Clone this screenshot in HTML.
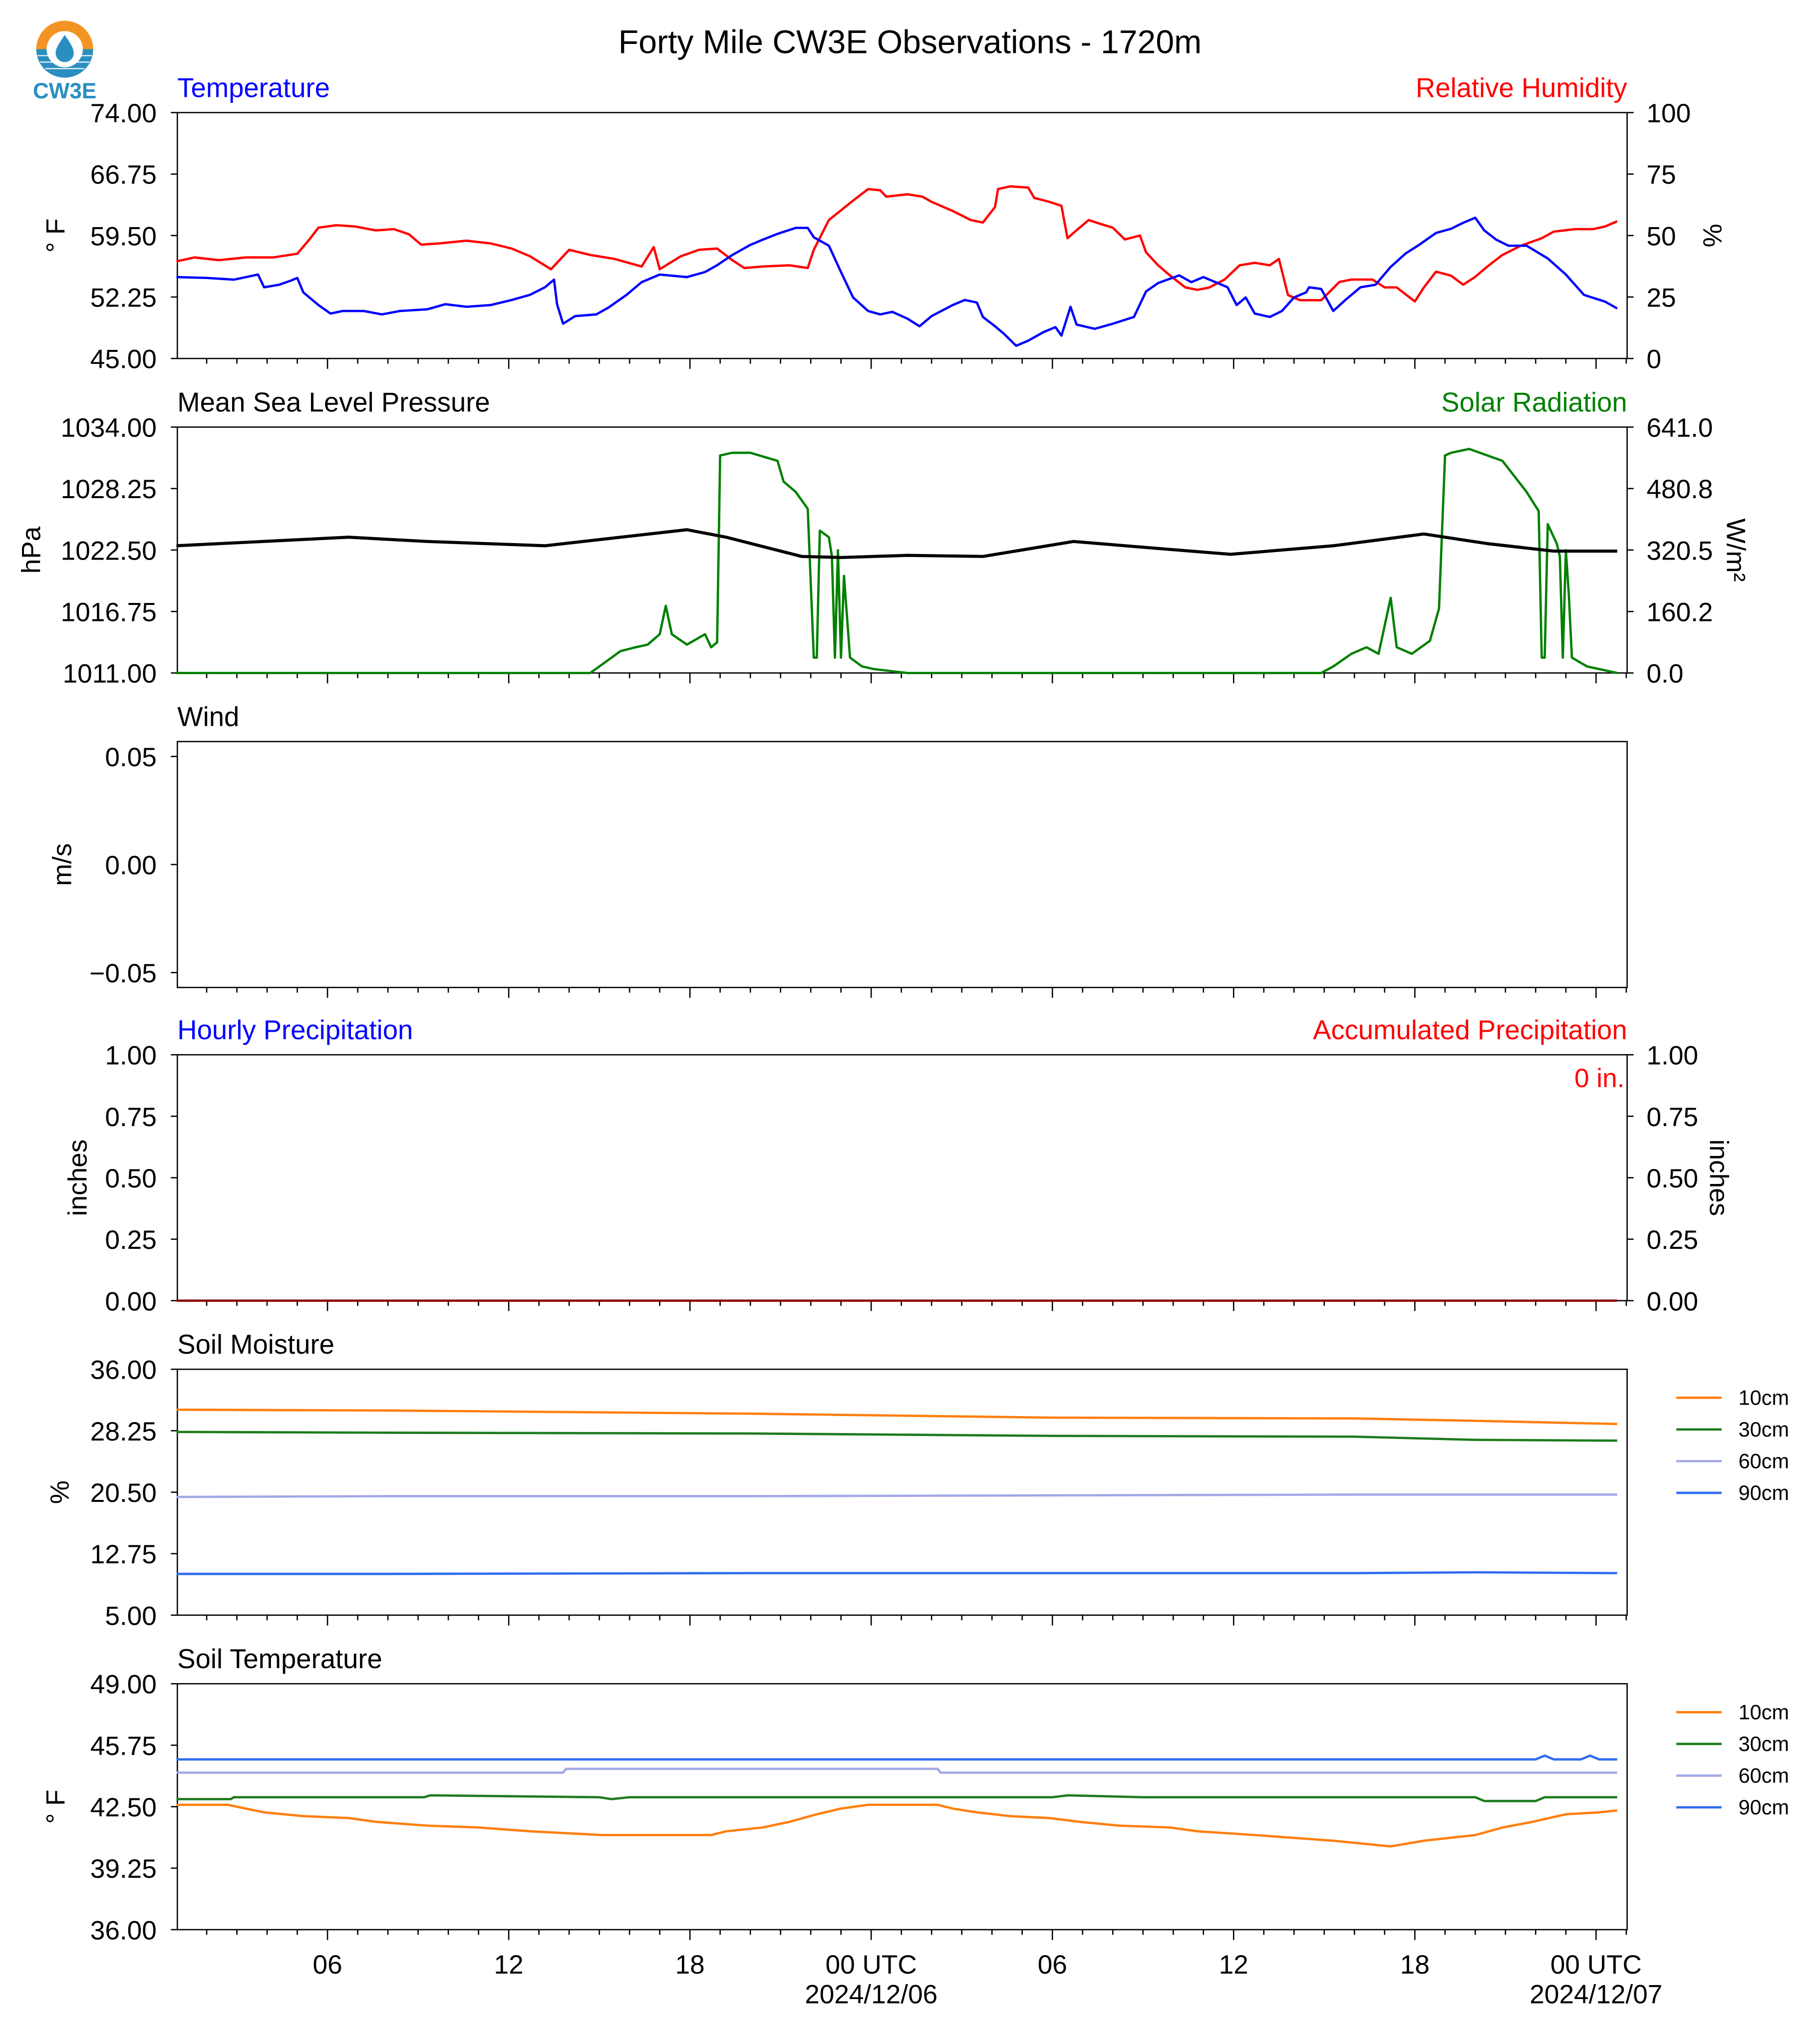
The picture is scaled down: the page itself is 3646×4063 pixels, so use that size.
<!DOCTYPE html>
<html><head><meta charset="utf-8">
<style>
html,body{margin:0;padding:0;background:#fff;}
svg{display:block;}
text{font-family:"Liberation Sans",Arial,sans-serif;}
</style></head>
<body>
<svg id="fig" width="3646" height="4063" viewBox="0 0 1406 1567" preserveAspectRatio="none" xmlns="http://www.w3.org/2000/svg">
<g>
  <path d="M28,38 A22,22 0 0 1 72,38 Z" fill="#f39323"/>
  <path d="M28,38 A22,22 0 0 0 72,38 Z" fill="#2a8fc0"/>
  <line x1="29" y1="43" x2="71" y2="43" stroke="#fff" stroke-width="0.8"/>
  <line x1="31" y1="48" x2="69" y2="48" stroke="#fff" stroke-width="0.8"/>
  <line x1="35" y1="53" x2="65" y2="53" stroke="#fff" stroke-width="0.8"/>
  <circle cx="50" cy="38" r="14" fill="#fff"/>
  <path d="M50,27 C46,33 43,37 43,41 A7,7 0 0 0 57,41 C57,37 54,33 50,27 Z" fill="#2a8fc0"/>
  <text x="50" y="76" font-size="17" font-weight="bold" fill="#2a8fc0" text-anchor="middle">CW3E</text>
</g>
<text x="703" y="41" font-size="25.5" text-anchor="middle">Forty Mile CW3E Observations - 1720m</text>
<g id="panels"></g>
</svg>
<script>
// ---------- data ----------
const tempHours=[1.0,2.0,2.9,3.7,3.9,4.4,4.8,5.0,5.2,5.7,6.1,6.5,7.2,7.8,8.4,9.3,9.9,10.6,11.4,12.1,12.7,13.2,13.5,13.6,13.8,14.2,14.9,15.3,15.9,16.4,17.0,17.9,18.5,18.9,19.4,20.0,20.4,20.9,21.5,21.9,22.1,22.6,23.0,23.4,23.9,24.3,24.7,25.2,25.6,26.0,26.7,27.1,27.5,27.7,28.1,28.4,28.8,29.2,29.7,30.1,30.3,30.6,30.8,31.4,32.0,32.7,33.1,33.5,34.2,34.6,35.0,35.4,35.8,36.1,36.4,36.7,37.2,37.6,38.0,38.4,38.5,38.9,39.3,39.7,40.2,40.7,41.2,41.7,42.1,42.7,43.2,43.6,44.0,44.3,44.7,45.1,45.7,46.4,47.0,47.6,48.3,48.7];
const tempValues=[54.6,54.5,54.3,54.9,53.4,53.7,54.2,54.5,52.8,51.3,50.3,50.6,50.6,50.2,50.6,50.8,51.4,51.1,51.3,51.9,52.5,53.4,54.3,51.4,49.1,50.0,50.2,51.0,52.5,54.0,54.9,54.6,55.2,56.0,57.2,58.4,59.0,59.7,60.4,60.4,59.3,58.3,55.2,52.2,50.6,50.2,50.5,49.7,48.8,50.0,51.3,51.9,51.6,49.9,48.8,47.9,46.5,47.1,48.1,48.7,47.7,51.1,49.0,48.5,49.1,49.9,52.9,53.9,54.8,54.0,54.6,54.0,53.4,51.3,52.2,50.3,49.9,50.6,52.2,52.8,53.4,53.2,50.6,51.9,53.4,53.7,55.8,57.4,58.3,59.8,60.3,61.0,61.6,60.1,59.0,58.3,58.3,56.8,54.9,52.5,51.7,50.9];
const rhHours=[1.0,1.6,2.4,3.3,4.2,5.0,5.4,5.7,6.3,6.9,7.6,8.2,8.7,9.1,9.7,10.6,11.4,12.1,12.7,13.4,14.0,14.7,15.5,16.4,16.8,17.0,17.7,18.3,18.9,19.4,19.8,20.4,21.3,21.9,22.1,22.6,23.4,23.9,24.3,24.5,25.2,25.7,26.0,26.7,27.3,27.7,28.1,28.2,28.6,29.2,29.4,29.9,30.3,30.5,30.7,31.2,31.6,32.0,32.4,32.9,33.1,33.5,33.9,34.4,34.8,35.2,35.7,36.2,36.7,37.2,37.5,37.8,38.2,38.9,39.5,39.9,40.6,41.0,41.4,42.0,42.3,42.7,43.2,43.6,44.0,44.4,44.9,45.5,46.2,46.6,47.3,47.9,48.3,48.7];
const rhValues=[39.5,41.1,40.0,41.1,41.1,42.6,48.4,53.2,54.2,53.7,52.1,52.6,50.5,46.3,46.8,47.9,46.8,44.7,41.6,36.3,44.2,42.1,40.5,37.4,45.3,36.3,41.6,44.2,44.7,40.0,36.8,37.4,37.9,36.8,44.2,56.3,64.2,68.9,68.4,65.8,66.8,65.8,63.7,60.0,56.3,55.3,61.6,68.9,70.0,69.5,65.3,63.7,62.1,48.9,51.1,56.3,54.7,53.2,48.4,50.0,43.2,37.9,33.7,28.9,27.9,28.9,32.1,37.9,38.9,37.9,40.5,25.8,23.7,23.7,31.1,32.1,32.1,28.9,28.9,23.2,28.9,35.3,33.7,30.0,33.2,37.4,42.1,45.8,48.9,51.6,52.6,52.6,53.7,55.8];
const presHours=[1.0,6.7,9.3,13.2,17.9,19.2,21.7,23.0,25.2,27.7,30.7,33.7,35.9,39.3,42.3,44.4,46.6,48.7];
const presValues=[1022.9,1023.7,1023.3,1022.9,1024.4,1023.7,1021.9,1021.8,1022.0,1021.9,1023.3,1022.6,1022.1,1022.9,1024.0,1023.1,1022.4,1022.4];
const solarHours=[1.0,14.7,15.3,15.7,16.2,16.6,17.0,17.2,17.4,17.9,18.5,18.7,18.9,19.0,19.4,20.0,20.9,21.1,21.5,21.9,22.1,22.2,22.3,22.6,22.7,22.8,22.9,23.0,23.1,23.3,23.7,24.1,25.2,38.9,39.3,39.9,40.4,40.8,41.2,41.4,41.9,42.5,42.8,43.0,43.2,43.8,44.9,45.7,46.1,46.2,46.3,46.4,46.7,46.8,46.9,47.0,47.1,47.2,47.7,48.7];
const solarValues=[0,0,34,57,67,74,101,175,101,74,101,67,80,567,574,574,553,499,472,428,40,40,371,354,304,40,320,40,253,40,17,10,0,0,17,50,67,50,196,67,50,84,168,567,574,584,553,472,422,40,40,388,337,304,40,320,202,40,17,0];
const soilHours=[1,8,20,30,40,44,48.7];
const sm10=[30.9,30.8,30.4,29.9,29.8,29.5,29.1];
const sm30=[28.1,28.0,27.9,27.6,27.5,27.1,27.0];
const sm60=[19.9,20.0,20.0,20.1,20.2,20.2,20.2];
const sm90=[10.2,10.2,10.3,10.3,10.3,10.4,10.3];
const st10Hours=[1.0,2.7,3.3,3.9,5.2,6.7,7.6,9.3,11.0,12.7,15.1,18.7,19.2,20.4,21.3,22.2,23.0,23.9,26.2,26.7,27.5,28.6,29.9,30.9,32.2,33.9,34.8,36.7,39.3,41.2,42.3,44.0,44.9,45.9,47.0,48.1,48.7];
const st10=[42.6,42.6,42.4,42.2,42.0,41.9,41.7,41.5,41.4,41.2,41.0,41.0,41.2,41.4,41.7,42.1,42.4,42.6,42.6,42.4,42.2,42.0,41.9,41.7,41.5,41.4,41.2,41.0,40.7,40.4,40.7,41.0,41.4,41.7,42.1,42.2,42.3];
const st30Hours=[1,2.8,2.9,9.2,9.4,15.0,15.4,16.0,30.0,30.5,33.0,40.0,44.0,44.3,46.0,46.3,48.7];
const st30=[42.9,42.9,43.0,43.0,43.1,43.0,42.9,43.0,43.0,43.1,43.0,43.0,43.0,42.8,42.8,43.0,43.0];
const st60Hours=[1,13.8,13.9,26.2,26.3,48.7];
const st60=[44.3,44.3,44.5,44.5,44.3,44.3];
const st90Hours=[1,46.0,46.3,46.6,47.5,47.8,48.1,48.7];
const st90=[45.0,45.0,45.2,45.0,45.0,45.2,45.0,45.0];
const precipHours=[1,48.7];
const precipValues=[0,0];
const xMajorTicks=[6,12,18,24,30,36,42,48];
const xMajorLabels=["06","12","18","00 UTC","06","12","18","00 UTC"];
const xDateLabels=["","","","2024/12/06","","","","2024/12/07"];

// ---------- helpers ----------
const NS="http://www.w3.org/2000/svg";
const root=document.getElementById('panels');
const L=137,R=1257,H=190;
const FS=20.5;
const xScale=h=>113+h*(140/6);
function el(tag,attrs,parent){const e=document.createElementNS(NS,tag);for(const k in attrs)e.setAttribute(k,attrs[k]);(parent||root).appendChild(e);return e;}
function txt(s,attrs,parent){const e=el('text',attrs,parent);e.textContent=s;return e;}
function yS(top,min,max){return v=>top+H-(v-min)/(max-min)*H;}
function line(hours,vals,ys,color,name,w){
  let d='';hours.forEach((h,i)=>{d+=(i?'L':'M')+xScale(h).toFixed(2)+','+ys(vals[i]).toFixed(2);});
  const p=el('path',{d:d,fill:'none',stroke:color,'stroke-width':w||1.8,'stroke-linejoin':'round'});
  
  
  return p;
}
function panel(top,name){
  const g=el('g',{});
  
  
  const r=el('rect',{x:L,y:top,width:R-L,height:H,fill:'none',stroke:'#000','stroke-width':1},g);
  
  
  for(let h=1;h<=49;h++){const x=xScale(h);if(x<L||x>R)continue;const maj=h%6===0;
    el('line',{x1:x,x2:x,y1:top+H,y2:top+H+(maj?8:4),stroke:'#000','stroke-width':1},g);}
  return g;
}
function yTicks(g,top,ticks,labels,side){
  const ys=v=>top+H-(v-ticks[0])/(ticks[ticks.length-1]-ticks[0])*H;
  ticks.forEach((t,i)=>{const y=ys(t);
    if(side==='left'){el('line',{x1:L-5,x2:L,y1:y,y2:y,stroke:'#000','stroke-width':1},g);
      const e=txt(labels[i],{x:L-16,y:y+7.5,'font-size':FS,'text-anchor':'end'},g);
      }
    else{el('line',{x1:R,x2:R+5,y1:y,y2:y,stroke:'#000','stroke-width':1},g);
      const e=txt(labels[i],{x:R+15,y:y+7.5,'font-size':FS},g);
      }
  });
}
function title(g,top,s,color,right,name){
  const e=txt(s,{x:right?R:L,y:top-12,'font-size':21,fill:color,'text-anchor':right?'end':'start'},g);
  
}
function ylabel(g,x,y,s,rot,name){
  const e=txt(s,{x:x,y:y,'font-size':FS,'text-anchor':'middle',transform:`rotate(${rot} ${x} ${y})`},g);
  
}
function legend(g,top,names,colors){
  names.forEach((n,i)=>{const y=top+22+i*24.5;
    el('line',{x1:1295,x2:1330,y1:y,y2:y,stroke:colors[i],'stroke-width':1.8},g);
    const e=txt(n,{x:1343,y:y+5.5,'font-size':16},g);
    });
}
const tops=[87,330,573,815,1058,1301];

// Panel 1
let g=panel(tops[0],'temperature-rh-panel');
yTicks(g,tops[0],[45,52.25,59.5,66.75,74],["45.00","52.25","59.50","66.75","74.00"],'left');
yTicks(g,tops[0],[0,25,50,75,100],["0","25","50","75","100"],'right');
title(g,tops[0],'Temperature','#0000ff',false,'temperature-title');
title(g,tops[0],'Relative Humidity','#ff0000',true,'rh-title');
ylabel(g,50,182,'° F',-90,'temperature-axis-title');
ylabel(g,1316,182,'%',90,'rh-axis-title');
line(rhHours,rhValues,yS(tops[0],0,100),'#ff0000','rh-line');
line(tempHours,tempValues,yS(tops[0],45,74),'#0000ff','temperature-line');

// Panel 2
g=panel(tops[1],'pressure-solar-panel');
yTicks(g,tops[1],[1011,1016.75,1022.5,1028.25,1034],["1011.00","1016.75","1022.50","1028.25","1034.00"],'left');
yTicks(g,tops[1],[0,160.25,320.5,480.75,641],["0.0","160.2","320.5","480.8","641.0"],'right');
title(g,tops[1],'Mean Sea Level Pressure','#000',false,'pressure-title');
title(g,tops[1],'Solar Radiation','#008000',true,'solar-title');
ylabel(g,31,425,'hPa',-90,'pressure-axis-title');
ylabel(g,1334,425,'W/m²',90,'solar-axis-title');
line(solarHours,solarValues,yS(tops[1],0,641),'#008000','solar-line');
line(presHours,presValues,yS(tops[1],1011,1034),'#000','pressure-line',2.4);

// Panel 3
g=panel(tops[2],'wind-panel');
[[0.05,"0.05"],[0,"0.00"],[-0.05,"−0.05"]].forEach(t=>{const y=668-t[0]/0.05*83.5;
  el('line',{x1:L-5,x2:L,y1:y,y2:y,stroke:'#000'},g);
  const e=txt(t[1],{x:L-16,y:y+7.5,'font-size':FS,'text-anchor':'end'},g);
  });
title(g,tops[2],'Wind','#000',false,'wind-title');
ylabel(g,55,668,'m/s',-90,'wind-axis-title');

// Panel 4
g=panel(tops[3],'precipitation-panel');
const pt=[0,0.25,0.5,0.75,1],pl=["0.00","0.25","0.50","0.75","1.00"];
yTicks(g,tops[3],pt,pl,'left');yTicks(g,tops[3],pt,pl,'right');
title(g,tops[3],'Hourly Precipitation','#0000ff',false,'hourly-precip-title');
title(g,tops[3],'Accumulated Precipitation','#ff0000',true,'accum-precip-title');
ylabel(g,67,910,'inches',-90,'precip-axis-title');
ylabel(g,1321,910,'inches',90,'accum-precip-axis-title');
let e=txt('0 in.',{x:R-2,y:840,'font-size':FS,fill:'#ff0000','text-anchor':'end'},g);

line(precipHours,precipValues,yS(tops[3],0,1),'#8b0000','accum-precip-line',1.8);

// Panel 5
g=panel(tops[4],'soil-moisture-panel');
yTicks(g,tops[4],[5,12.75,20.5,28.25,36],["5.00","12.75","20.50","28.25","36.00"],'left');
title(g,tops[4],'Soil Moisture','#000',false,'soil-moisture-title');
ylabel(g,53,1153,'%',-90,'soil-moisture-axis-title');
const ys5=yS(tops[4],5,36);
line(soilHours,sm10,ys5,'#ff7f0e','sm-10cm-line');
line(soilHours,sm30,ys5,'#1e7b1e','sm-30cm-line');
line(soilHours,sm60,ys5,'#a3a8e6','sm-60cm-line');
line(soilHours,sm90,ys5,'#2f6cf0','sm-90cm-line');
legend(g,tops[4],['10cm','30cm','60cm','90cm'],['#ff7f0e','#1e7b1e','#a3a8e6','#2f6cf0']);

// Panel 6
g=panel(tops[5],'soil-temperature-panel');
yTicks(g,tops[5],[36,39.25,42.5,45.75,49],["36.00","39.25","42.50","45.75","49.00"],'left');
title(g,tops[5],'Soil Temperature','#000',false,'soil-temperature-title');
ylabel(g,50,1396,'° F',-90,'soil-temperature-axis-title');
const ys6=yS(tops[5],36,49);
line(st10Hours,st10,ys6,'#ff7f0e','st-10cm-line');
line(st30Hours,st30,ys6,'#1e7b1e','st-30cm-line');
line(st60Hours,st60,ys6,'#a3a8e6','st-60cm-line');
line(st90Hours,st90,ys6,'#2f6cf0','st-90cm-line');
legend(g,tops[5],['10cm','30cm','60cm','90cm'],['#ff7f0e','#1e7b1e','#a3a8e6','#2f6cf0']);

// x tick labels
xMajorTicks.forEach((h,i)=>{const x=xScale(h);
  const a=txt(xMajorLabels[i],{x:x,y:1525,'font-size':FS,'text-anchor':'middle'});
  
  if(xDateLabels[i]){const b=txt(xDateLabels[i],{x:x,y:1548,'font-size':FS,'text-anchor':'middle'});
    }
});
</script>
</body></html>
